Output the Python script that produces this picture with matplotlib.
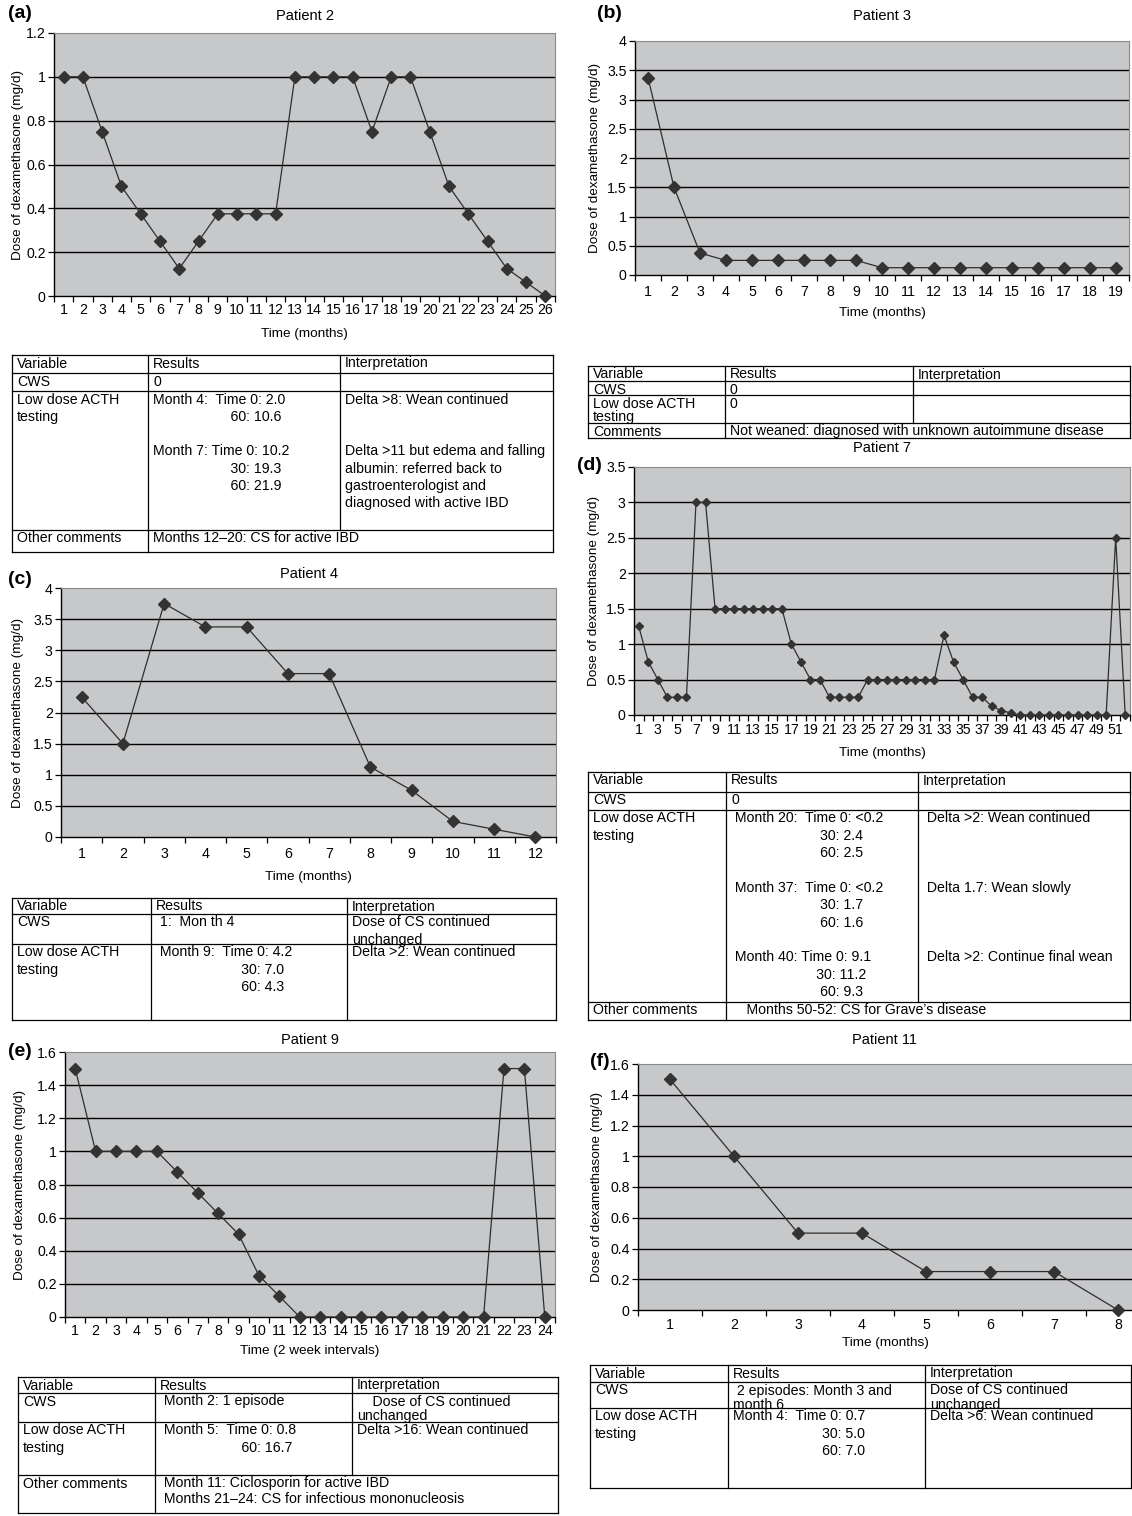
import numpy as np
import matplotlib
matplotlib.use("Agg")
import matplotlib.pyplot as plt

plt.rcParams['font.family'] = ['Liberation Sans', 'DejaVu Sans']

# ---- data -------------------------------------------------------------
patient2 = [1, 1, 0.75, 0.5, 0.375, 0.25, 0.125, 0.25, 0.375, 0.375, 0.375, 0.375,
            1, 1, 1, 1, 0.75, 1, 1, 0.75, 0.5, 0.375, 0.25, 0.125, 0.0625, 0]
patient3 = [3.375, 1.5, 0.375, 0.25, 0.25, 0.25, 0.25, 0.25, 0.25,
            0.125, 0.125, 0.125, 0.125, 0.125, 0.125, 0.125, 0.125, 0.125, 0.125]
patient4 = [2.25, 1.5, 3.75, 3.375, 3.375, 2.625, 2.625, 1.125, 0.75, 0.25, 0.125, 0]
patient7 = [1.25, 0.75, 0.5, 0.25, 0.25, 0.25, 3, 3,
            1.5, 1.5, 1.5, 1.5, 1.5, 1.5, 1.5, 1.5,
            1, 0.75, 0.5, 0.5, 0.25, 0.25, 0.25, 0.25,
            0.5, 0.5, 0.5, 0.5, 0.5, 0.5, 0.5, 0.5,
            1.125, 0.75, 0.5, 0.25, 0.25, 0.125, 0.0625, 0.03,
            0, 0, 0, 0, 0, 0, 0, 0, 0, 0, 2.5, 0]
patient9 = [1.5, 1, 1, 1, 1, 0.875, 0.75, 0.625, 0.5, 0.25, 0.125,
            0, 0, 0, 0, 0, 0, 0, 0, 0, 0, 1.5, 1.5, 0]
patient11 = [1.5, 1, 0.5, 0.5, 0.25, 0.25, 0.25, 0]

titles = ["Patient 2", "Patient 3", "Patient 4", "Patient 7", "Patient 9", "Patient 11"]
letters = ["(a)", "(b)", "(c)", "(d)", "(e)", "(f)"]
xlabels = ["Time (months)", "Time (months)", "Time (months)", "Time (months)",
           "Time (2 week intervals)", "Time (months)"]
ylabel = "Dose of dexamethasone (mg/d)"

header = ["Variable", "Results", "Interpretation"]
sp = " "
table_a = [
    ["CWS", "0", ""],
    ["Low dose ACTH\ntesting",
     "Month 4:  Time 0: 2.0\n" + sp * 20 + "60: 10.6\n\nMonth 7: Time 0: 10.2\n"
     + sp * 20 + "30: 19.3\n" + sp * 20 + "60: 21.9",
     "Delta >8: Wean continued\n\n\nDelta >11 but edema and falling\nalbumin: referred back to\n"
     "gastroenterologist and\ndiagnosed with active IBD"],
    ["Other comments", "Months 12\u201320: CS for active IBD", None],
]
table_b = [
    ["CWS", "0", ""],
    ["Low dose ACTH\ntesting", "0", ""],
    ["Comments", "Not weaned: diagnosed with unknown autoimmune disease", None],
]
table_c = [
    ["CWS", " 1:  Mon th 4", "Dose of CS continued\nunchanged"],
    ["Low dose ACTH\ntesting",
     " Month 9:  Time 0: 4.2\n" + sp * 22 + "30: 7.0\n" + sp * 22 + "60: 4.3",
     "Delta >2: Wean continued"],
]
table_d = [
    ["CWS", "0", ""],
    ["Low dose ACTH\ntesting",
     " Month 20:  Time 0: <0.2\n" + sp * 23 + "30: 2.4\n" + sp * 23 + "60: 2.5\n\n"
     " Month 37:  Time 0: <0.2\n" + sp * 23 + "30: 1.7\n" + sp * 23 + "60: 1.6\n\n"
     " Month 40: Time 0: 9.1\n" + sp * 22 + "30: 11.2\n" + sp * 23 + "60: 9.3",
     " Delta >2: Wean continued\n\n\n\n Delta 1.7: Wean slowly\n\n\n\n Delta >2: Continue final wean"],
    ["Other comments", "    Months 50-52: CS for Grave\u2019s disease", None],
]
table_e = [
    ["CWS", " Month 2: 1 episode", "    Dose of CS continued\nunchanged"],
    ["Low dose ACTH\ntesting",
     " Month 5:  Time 0: 0.8\n" + sp * 21 + "60: 16.7",
     "Delta >16: Wean continued"],
    ["Other comments",
     " Month 11: Ciclosporin for active IBD\n Months 21\u201324: CS for infectious mononucleosis", None],
]
table_f = [
    ["CWS", " 2 episodes: Month 3 and\nmonth 6", "Dose of CS continued\nunchanged"],
    ["Low dose ACTH\ntesting",
     "Month 4:  Time 0: 0.7\n" + sp * 23 + "30: 5.0\n" + sp * 23 + "60: 7.0",
     "Delta >6: Wean continued"],
]

# ---- layout (pixels) --------------------------------------------------
W, H = 1132, 1516
fig = plt.figure(figsize=(W / 100, H / 100), dpi=100)
FS = 10.2
LINE_UNIT = 13.24   # px per unit of linespacing at FS


def box(l, t, r, b):
    return [l / W, 1 - b / H, (r - l) / W, (b - t) / H]


over = fig.add_axes([0, 0, 1, 1])
over.set_xlim(0, W)
over.set_ylim(H, 0)
over.axis("off")


def panel(values, ymax, ystep, pos, every, ms, i, letter_xy, title_y, xlab_y, ylab_x, pad):
    l, t, r, b = pos
    ax = fig.add_axes(box(l, t, r, b))
    n = len(values)
    x = np.arange(1, n + 1)
    ax.set_facecolor("#c7c8ca")
    yt = np.arange(0, ymax + ystep / 2, ystep)
    for y in yt[1:-1]:
        ax.axhline(y, color="black", lw=1.0, zorder=1)
    ax.plot(x, values, color="#2e2e2e", lw=0.9, marker="D", ms=ms,
            mfc="#333333", mec="#333333", zorder=3, clip_on=False)
    ax.set_xlim(0.5, n + 0.5)
    ax.set_ylim(0, ymax)
    ax.set_yticks(yt)
    ax.set_yticklabels(["%g" % v for v in yt], fontsize=FS)
    ax.set_xticks(x)
    ax.set_xticklabels([str(v) if (v - 1) % every == 0 else "" for v in x], fontsize=FS)
    ax.set_xticks(np.arange(0.5, n + 1), minor=True)
    ax.tick_params(axis="x", which="major", length=0, pad=pad)
    ax.tick_params(axis="x", which="minor", length=4, direction="out", width=0.9)
    ax.tick_params(axis="y", length=4, direction="out", width=0.9, pad=2)
    for s in ["left", "bottom"]:
        ax.spines[s].set_color("black")
        ax.spines[s].set_linewidth(1.0)
    for s in ["top", "right"]:
        ax.spines[s].set_color("#8a8a8a")
        ax.spines[s].set_linewidth(0.8)
    cx = (l + min(r, W)) / 2
    over.text(cx, title_y, titles[i], ha="center", va="center", fontsize=FS + 0.3)
    over.text(letter_xy[0], letter_xy[1], letters[i], ha="left", va="center",
              fontsize=14, fontweight="bold")
    over.text(cx, xlab_y, xlabels[i], ha="center", va="center", fontsize=FS - 0.5)
    over.text(ylab_x, (t + b) / 2, ylabel, ha="center", va="center",
              rotation=90, fontsize=FS - 0.5)
    return ax


def table(rows, cols, ys, gaps):
    x0, x1, x2, x3 = cols
    lw = 0.9
    for y in ys:
        over.plot([x0, x3], [y, y], color="black", lw=lw)
    over.plot([x0, x0], [ys[0], ys[-1]], color="black", lw=lw)
    over.plot([x3, x3], [ys[0], ys[-1]], color="black", lw=lw)
    allrows = [header] + rows
    gaps = [17] + list(gaps)
    for k, row in enumerate(allrows):
        top, bot = ys[k], ys[k + 1]
        over.plot([x1, x1], [top, bot], color="black", lw=lw)
        if row[2] is not None:
            over.plot([x2, x2], [top, bot], color="black", lw=lw)
        for j, txt in enumerate(row):
            if txt:
                over.text([x0, x1, x2][j] + 5, top + 1.5, txt, ha="left", va="top",
                          fontsize=FS, linespacing=gaps[k] / LINE_UNIT)


panel(patient2, 1.2, 0.2, (54, 33, 555, 296), 1, 6.5, 0, (8, 14), 16, 334, 18, 5)
panel(patient3, 4, 0.5, (635, 41, 1129, 275), 1, 6.5, 1, (597, 14), 16, 313, 595, 7)
panel(patient4, 4, 0.5, (61, 588, 556, 837), 1, 6.5, 2, (8, 580), 574, 877, 18, 7)
panel(patient7, 3.5, 0.5, (634, 467, 1130, 715), 2, 4.0, 3, (577, 465), 448, 753, 594, 6)
panel(patient9, 1.6, 0.2, (65, 1052, 555, 1317), 1, 6.5, 4, (8, 1052), 1040, 1351, 20, 5)
panel(patient11, 1.6, 0.2, (638, 1064, 1150, 1310), 1, 6.5, 5, (590, 1062), 1040, 1343, 597, 6)

table(table_a, (12, 148, 340, 553), [355, 373, 391, 530, 552], [17, 17.2, 17])
table(table_b, (588, 725, 913, 1130), [366, 381, 395, 423, 438], [13, 13, 13])
table(table_c, (12, 151, 347, 556), [898, 914, 944, 1020], [17, 17])
table(table_d, (588, 726, 918, 1130), [772, 792, 810, 1002, 1020], [17, 17.3, 17])
table(table_e, (18, 155, 352, 558), [1377, 1393, 1422, 1475, 1513], [14, 17, 15])
table(table_f, (590, 728, 925, 1131), [1365, 1382, 1408, 1488], [14, 17])

fig.savefig("out.png", dpi=100)
